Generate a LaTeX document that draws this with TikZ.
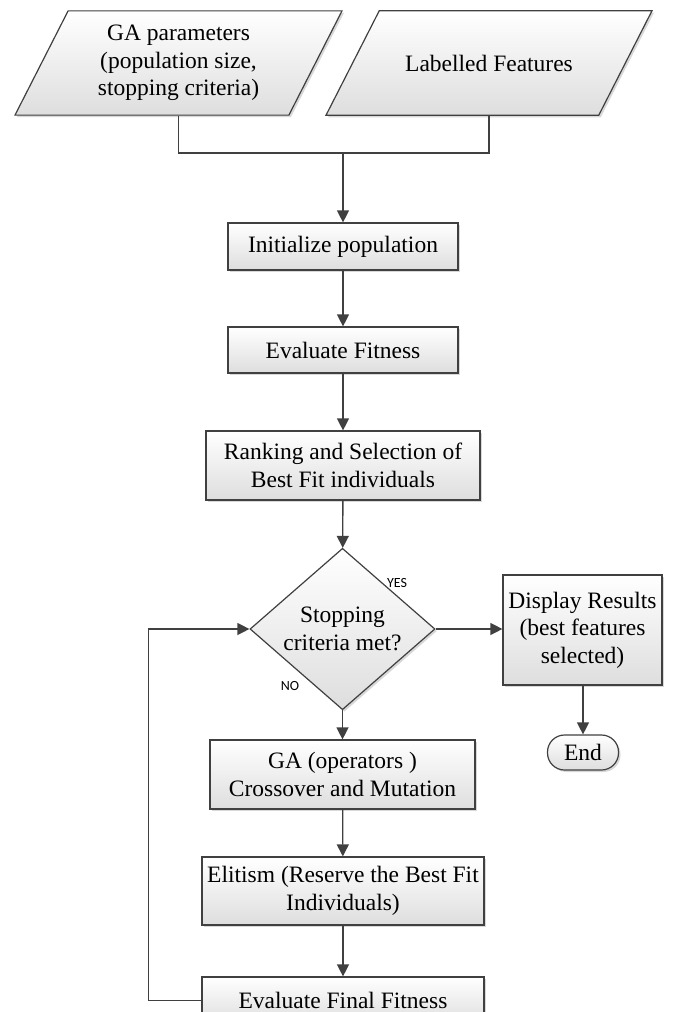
\documentclass[tikz,border=0pt]{standalone}
\usepackage{fontspec}
\setmainfont{Liberation Serif}
\newfontfamily\tagfont{Carlito}
\usetikzlibrary{arrows.meta, shapes.geometric, shadows}
\definecolor{linegray}{HTML}{404040}
\tikzset{box/.style = {shape = rectangle, draw = linegray, line width = 1.2pt, top color = white, bottom color = black!13, drop shadow = {shadow xshift = 2pt, shadow yshift = -2pt, fill = black!30, opacity = .5}, inner sep = 0pt, align = center, font = \fontsize{23.5}{27.5}\selectfont}}
\tikzset{inbox/.style = {box, shape = trapezium, trapezium left angle = 63, trapezium right angle = 117, trapezium stretches body = true, minimum height = 104pt}}
\tikzset{decision/.style = {box, shape = diamond}}
\tikzset{terminal/.style = {box, rounded corners = 17pt}}
\tikzset{tag/.style = {font = \tagfont\fontsize{14}{16}\selectfont, inner sep = 0pt}}
\tikzset{edge/.style = {draw = linegray, line width = 1.3pt, -{Triangle[length = 12pt, width = 12pt]}}}
\tikzset{link/.style = {draw = linegray, line width = 1.3pt}}

\begin{document}
\begin{tikzpicture}[x = 1pt, y = -1pt]
				\useasboundingbox (0, 0) rectangle (672, 1012);
				\node[inbox, inner ysep = 14.3pt, minimum width = 327pt] (param) at (178.5, 63) {GA parameters\\(population size,\\stopping criteria)};
				\node[inbox, inner ysep = 44pt, minimum width = 326pt] (feat) at (489, 63) {Labelled Features};
				\coordinate (join) at (343, 153);

				\node[box, minimum width = 230pt, minimum height = 47pt] (init) at (343, 246.5) {Initialize population};
				\node[box, minimum width = 230pt, minimum height = 46pt] (fit) at (343, 350) {Evaluate Fitness};
				\node[box, minimum width = 274pt, minimum height = 69pt] (rank) at (343, 465.5) {Ranking and Selection of\\Best Fit individuals};
				\node[decision, minimum width = 185pt, minimum height = 134pt] (stop) at (342.5, 629) {Stopping\\criteria met?};
				\node[box, minimum width = 159pt, minimum height = 110pt] (disp) at (582.5, 630) {Display Results\\(best features\\selected)};
				\node[terminal, minimum width = 71pt, minimum height = 35pt] (term) at (583, 752.5) {End};
				\node[box, minimum width = 265pt, minimum height = 69pt] (ops) at (342.5, 774.5) {GA (operators )\\Crossover and Mutation};
				\node[box, minimum width = 282pt, minimum height = 68pt] (elit) at (343, 891) {Elitism (Reserve the Best Fit\\Individuals)};
				\node[box, minimum width = 282pt, minimum height = 47pt] (final) at (343, 1000.5) {Evaluate Final Fitness};

				\node[tag] (yes) at (397, 583) {YES};
				\node[tag] (no) at (290, 686) {NO};

				\draw[link] (param.south) |- (join);
				\draw[link] (feat.south) |- (join);
				\draw[edge] (join) -- (init);
				\draw[edge] (init) -- (fit);
				\draw[edge] (fit) -- (rank);
				\draw[edge] (rank) -- (stop);
				\draw[edge] (stop.east) -- (stop.east -| disp.west);
				\draw[edge] (disp.south -| term) -- (term);
				\draw[edge] (stop) -- (ops);
				\draw[edge] (ops) -- (elit);
				\draw[edge] (elit) -- (final);
				\draw[edge] (final.west) -- ++(-53, 0) |- (stop.west);
			\end{tikzpicture}
\end{document}
